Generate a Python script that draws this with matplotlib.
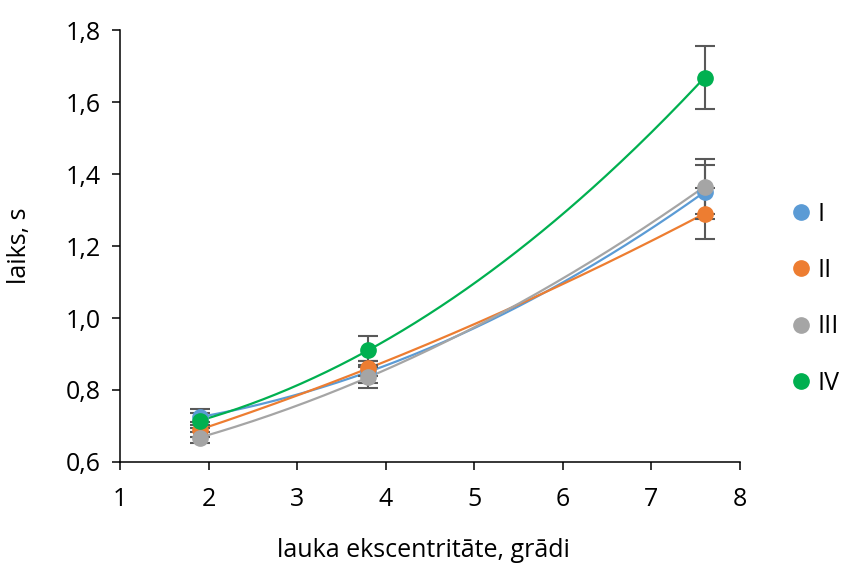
import numpy as np
import matplotlib.pyplot as plt
from matplotlib.ticker import FuncFormatter

plt.rcParams['font.family'] = ['Open Sans', 'DejaVu Sans']

# dati
x = [1.9, 3.8, 7.6]
names = ['I', 'II', 'III', 'IV']
y_I = [0.725, 0.850, 1.350]
y_II = [0.690, 0.860, 1.290]
y_III = [0.668, 0.835, 1.365]
y_IV = [0.715, 0.910, 1.668]
err_I = [0.022, 0.030, 0.075]
err_II = [0.020, 0.020, 0.070]
err_III = [0.015, 0.030, 0.077]
err_IV = [0.020, 0.040, 0.088]
colors = ['#5B9BD5', '#ED7D31', '#A5A5A5', '#00B050']

series = [y_I, y_II, y_III, y_IV]
errors = [err_I, err_II, err_III, err_IV]

fig = plt.figure(figsize=(8.48, 5.63), dpi=100)
ax = fig.add_axes([0.1415, 0.1794, 0.7311, 0.7673])

xs = np.linspace(x[0], x[-1], 200)
for name, y, e, c in zip(names, series, errors, colors):
    # 2. pakāpes polinoma trendlīnija
    p = np.polyfit(x, y, 2)
    ax.plot(xs, np.polyval(p, xs), color=c, lw=1.6, zorder=2)
    ax.errorbar(x, y, yerr=e, fmt='none', ecolor='#595959', elinewidth=1.5,
                capsize=7, capthick=1.5, zorder=3)
    ax.plot(x, y, 'o', color=c, ms=11, zorder=4, label=name)

ax.set_xlim(1, 8)
ax.set_ylim(0.6, 1.8)
ax.set_xticks(range(1, 9))
ax.set_yticks(np.arange(0.6, 1.81, 0.2))
ax.yaxis.set_major_formatter(FuncFormatter(lambda v, p: f'{v:.1f}'.replace('.', ',')))
ax.tick_params(labelsize=18, length=6, width=1.1, colors='black', direction='out')
ax.tick_params(axis='x', pad=12)
ax.tick_params(axis='y', pad=8)
for s in ['top', 'right']:
    ax.spines[s].set_visible(False)
for s in ['left', 'bottom']:
    ax.spines[s].set_linewidth(1.1)

ax.set_xlabel('lauka ekscentritāte, grādi', fontsize=18)
ax.set_ylabel('laiks, s', fontsize=18)
ax.xaxis.set_label_coords(0.49, -0.175)
ax.yaxis.set_label_coords(-0.142, 0.5)

ax.legend(loc='center left', bbox_to_anchor=(1.04, 0.378), frameon=False,
          fontsize=18, handletextpad=0.1, labelspacing=1.25, handlelength=1.1)

fig.savefig('out.png', dpi=100)
